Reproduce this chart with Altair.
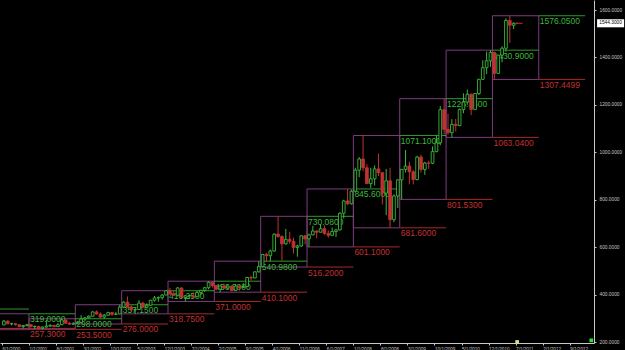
import altair as alt
import pandas as pd

# ---- monthly candles, Jun 2000 .. Jun 2011 (month index: Jan 2000 = 0) ----
first_month = 5
opens = [272, 288, 277, 277, 273, 265, 269,
         273, 265, 266, 258, 263, 267, 270, 265, 273, 293, 279, 275,
         279, 282, 297, 302, 309, 327, 318, 305, 313, 324, 317, 318,
         347, 368, 348, 336, 337, 364, 347, 355, 376, 386, 387, 398,
         416, 403, 397, 428, 388, 395, 395, 391, 409, 418, 429, 452,
         438, 423, 436, 428, 436, 417, 436, 430, 434, 472, 470, 496,
         518, 569, 564, 584, 655, 645, 614, 633, 625, 599, 605, 648,
         635, 652, 668, 663, 678, 658, 650, 666, 673, 743, 795, 783,
         836, 925, 972, 935, 868, 888, 930, 914, 828, 880, 716, 816,
         884, 928, 942, 918, 885, 980, 928, 955, 954, 1003, 1040, 1180,
         1097, 1083, 1118, 1113, 1180, 1212, 1245, 1181, 1248, 1308, 1357, 1386,
         1421, 1333, 1410, 1439, 1556, 1536]
highs = [293, 291, 281, 280, 275, 272, 276,
         274, 269, 268, 265, 293, 275, 272, 280, 298, 294, 285, 282,
         288, 313, 305, 312, 330, 333, 325, 318, 328, 327, 326, 357.15,
         372, 392, 355, 342, 376, 370, 363, 378, 394, 392, 402, 416.25,
         428, 418, 431, 430, 397, 399, 410, 416, 420, 432, 456.5, 456,
         440, 438, 446, 439, 437, 443, 439, 448, 475, 480, 498, 540.98,
         572, 576, 590, 658, 730.08, 650, 677, 665, 640, 610, 650, 650,
         657, 690, 672, 697, 692, 671, 683, 678, 747, 800, 845.6, 842,
         935, 980, 1071.1, 950, 935, 945, 995, 916, 930, 935, 823, 885,
         930, 1010, 960, 925, 985, 990, 960, 965, 1025, 1070, 1195, 1226.35,
         1163, 1140, 1141, 1185, 1249, 1265, 1248, 1250, 1310, 1388, 1425, 1430.9,
         1424, 1412, 1447, 1565, 1576.05, 1549]
lows = [271, 275, 270, 269, 262, 257.3, 266,
        262, 255, 256, 253.5, 262, 265, 264, 264, 271, 277, 272, 272,
        276, 281, 289, 300, 307, 316, 302, 300, 311, 310, 314, 317,
        345, 345, 326, 318.75, 337, 343, 341, 353, 371, 370, 379, 398,
        399, 394, 392, 385, 371, 382, 385, 390, 398, 411, 422, 430,
        418, 410.1, 425, 423, 414, 415, 417, 428, 433, 460, 468, 493,
        516.2, 538, 541, 581, 640, 543, 610, 614, 573, 560, 601, 612,
        601.1, 650, 637, 662, 652, 640, 649, 643, 670, 721, 777, 780,
        833, 895, 920, 866, 850, 860, 900, 780, 735, 681.6, 705, 765,
        801.53, 915, 865, 865, 882, 915, 905, 930, 950, 1000, 1030, 1075,
        1075, 1063.04, 1088, 1110, 1165, 1200, 1157, 1178, 1242, 1306, 1330, 1360,
        1307.4499, 1330, 1380, 1425, 1462, 1520]
closes = [288, 277, 277, 273, 265, 269, 273,
          265, 266, 258, 263, 267, 270, 265, 273, 293, 279, 275, 279,
          282, 297, 302, 309, 327, 318, 305, 313, 324, 317, 318, 347,
          368, 348, 336, 337, 364, 347, 355, 376, 386, 387, 398, 416,
          403, 397, 428, 388, 395, 395, 391, 409, 418, 429, 452, 438,
          423, 436, 428, 436, 417, 436, 430, 434, 472, 470, 496, 518,
          569, 564, 584, 655, 645, 614, 633, 625, 599, 605, 648, 635,
          652, 668, 663, 678, 658, 650, 666, 673, 743, 795, 783, 836,
          925, 972, 935, 868, 888, 930, 914, 828, 880, 716, 816, 884,
          928, 942, 918, 885, 980, 928, 955, 954, 1003, 1040, 1180, 1097,
          1083, 1118, 1113, 1180, 1212, 1245, 1181, 1248, 1308, 1357, 1386, 1421,
          1333, 1410, 1439, 1556, 1536, 1544.3]

# ---- yearly ranges (boxes) ----
years = [1999, 2000, 2001, 2002, 2003, 2004, 2005, 2006, 2007, 2008, 2009, 2010, 2011]
year_high = [339.0, 319.0, 298.0, 357.15, 416.25, 456.5, 540.98, 730.08, 845.6,
             1071.1, 1226.35, 1430.9, 1576.05]
year_low = [252.0, 257.3, 253.5, 276.0, 318.75, 371.0, 410.1, 516.2, 601.1,
            681.6, 801.53, 1063.04, 1307.4499]

last_price = 1544.3
y_ticks = [200, 400, 600, 800, 1000, 1200, 1400, 1600]
x_ticks = list(range(5, 153, 7))  # 6/1/2000 ... 9/1/2012

GREEN = "#3cb83c"
RED = "#c03232"
PURPLE = "#7e3c7e"
AXIS = "#c8c8c8"

n = len(opens)
months = [first_month + i for i in range(n)]
candles = pd.DataFrame({
    "m": months,
    "xc": [m + 0.5 for m in months],
    "x1": [m + 0.15 for m in months],
    "x2": [m + 0.85 for m in months],
    "open": opens, "high": highs, "low": lows, "close": closes,
    "dir": ["up" if c >= o else "down" for o, c in zip(opens, closes)],
})

yr = pd.DataFrame({
    "year": years,
    "start": [(y - 2000) * 12 for y in years],
    "end": [(y - 2000) * 12 + 12 for y in years],
    "ext": [(y - 2000) * 12 + 24 for y in years],
    "high": year_high,
    "low": year_low,
})
lab = yr[yr["year"] >= 2000]

xs = alt.Scale(domain=[4.5, 158.3], nice=False, zero=False)
ys = alt.Scale(domain=[195.8, 1642.5], nice=False, zero=False)

xax = alt.Axis(values=x_ticks, title=None, grid=False,
               labelExpr="(datum.value % 12 + 1) + '/1/' + (2000 + floor(datum.value / 12))",
               labelAlign="left", labelFontSize=4.6, labelColor="#c4c4c4", labelFont="Liberation Sans",
               labelPadding=1, labelOverlap=False, labelFlush=False,
               tickSize=2, tickColor=AXIS, domainColor=AXIS)
yax = alt.Axis(values=y_ticks, title=None, grid=False, orient="right", format=".4f",
               labelFontSize=4.8, labelColor="#c4c4c4", labelFont="Liberation Sans",
               labelPadding=3, tickSize=2, tickColor=AXIS, domainColor=AXIS)


def X(f):
    return alt.X(f, type="quantitative", scale=xs, axis=xax)


def Y(f):
    return alt.Y(f, type="quantitative", scale=ys, axis=yax)


stroke_scale = alt.Scale(domain=["up", "down"], range=[GREEN, RED])
fill_scale = alt.Scale(domain=["up", "down"], range=["#000000", RED])

base_y = alt.Chart(yr)

boxes = base_y.mark_rect(fillOpacity=0, stroke=PURPLE, strokeWidth=1, clip=True).encode(
    x=X("start"), x2="end", y=Y("low"), y2="high")
hi_ext = base_y.mark_rule(color="#2f9a2f", strokeWidth=1, clip=True).encode(
    x=X("end"), x2="ext", y=Y("high"))
lo_ext = base_y.mark_rule(color="#a82a2a", strokeWidth=1, clip=True).encode(
    x=X("end"), x2="ext", y=Y("low"))

hi_lab = alt.Chart(lab).mark_text(align="left", baseline="top", dx=1, dy=1.5, fontSize=8.5,
                                  font="Liberation Sans", color=GREEN, clip=True).encode(
    x=X("end"), y=Y("high"), text=alt.Text("high:Q", format=".4f"))
lo_lab = alt.Chart(lab).mark_text(align="left", baseline="top", dx=1, dy=1.5, fontSize=8.5,
                                  font="Liberation Sans", color=RED, clip=True).encode(
    x=X("end"), y=Y("low"), text=alt.Text("low:Q", format=".4f"))

cb = alt.Chart(candles)
wicks = cb.mark_rule(strokeWidth=1).encode(
    x=X("xc"), y=Y("low"), y2="high",
    stroke=alt.Stroke("dir:N", scale=stroke_scale, legend=None))
bodies = cb.mark_rect(strokeWidth=0.9).encode(
    x=X("x1"), x2="x2", y=Y("open"), y2="close",
    stroke=alt.Stroke("dir:N", scale=stroke_scale, legend=None),
    fill=alt.Fill("dir:N", scale=fill_scale, legend=None))

# current price marker and tag on the price axis
cur = pd.DataFrame({"a": [138.1], "b": [139.8], "p": [last_price],
                    "bx1": [159.1], "bx2": [166.1], "tx": [162.6],
                    "p1": [last_price - 17], "p2": [last_price + 17]})
cc = alt.Chart(cur)
arrow = cc.mark_rule(color=RED, strokeWidth=1).encode(x=X("a"), x2="b", y=Y("p"))
arrow_head = cc.mark_point(shape="triangle-left", filled=True, color=RED, size=8).encode(
    x=X("a"), y=Y("p"))
tag_box = cc.mark_rect(color="white").encode(x=X("bx1"), x2="bx2", y=Y("p1"), y2="p2")
tag_txt = cc.mark_text(fontSize=4.8, font="Liberation Sans", color="black").encode(
    x=X("tx"), y=Y("p"), text=alt.Text("p:Q", format=".4f"))

marks = pd.DataFrame({"mx": [138.4, 157.6], "my": [200, 207], "kind": ["date", "corner"]})
markers = alt.Chart(marks).mark_square(size=14, opacity=1).encode(
    x=X("mx"), y=Y("my"),
    color=alt.Color("kind:N", scale=alt.Scale(domain=["date", "corner"],
                                              range=["#e0d890", "#33dd33"]), legend=None))

chart = alt.layer(
    boxes, hi_ext, lo_ext, hi_lab, lo_lab, wicks, bodies,
    arrow, arrow_head, tag_box, tag_txt, markers
).resolve_scale(color="independent").properties(
    width=594, height=343,
    background="black",
    padding={"left": 0, "top": 0, "right": 31, "bottom": 7},
    autosize=alt.AutoSizeParams(type="none"),
).configure_view(stroke=None)

chart.save("out.html", embed_options={"renderer": "svg", "actions": False})
